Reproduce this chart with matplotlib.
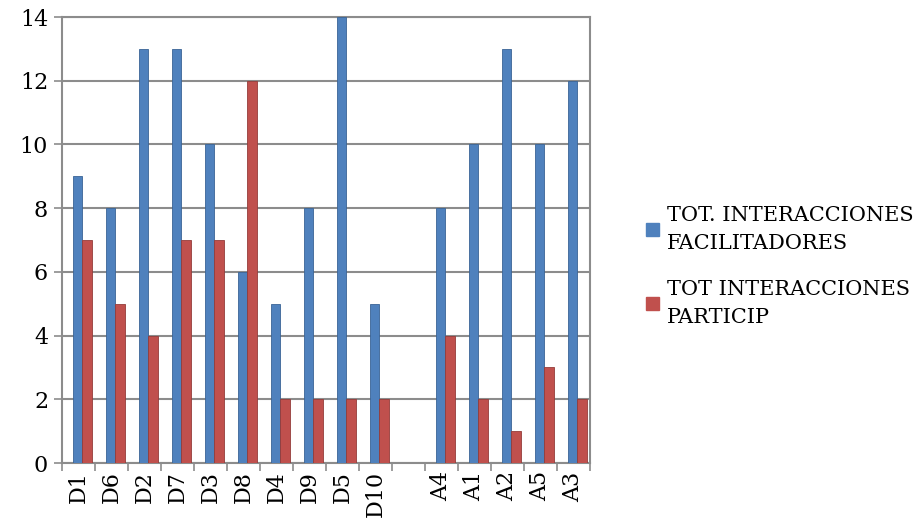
import numpy as np
import matplotlib.pyplot as plt
from matplotlib.patches import Patch

categories = ["D1", "D6", "D2", "D7", "D3", "D8", "D4", "D9", "D5", "D10",
              "", "A4", "A1", "A2", "A5", "A3"]
facilitadores = [9, 8, 13, 13, 10, 6, 5, 8, 14, 5, np.nan, 8, 10, 13, 10, 12]
particip = [7, 5, 4, 7, 7, 12, 2, 2, 2, 2, np.nan, 4, 2, 1, 3, 2]
series_names = ["TOT. INTERACCIONES\nFACILITADORES", "TOT INTERACCIONES\nPARTICIP"]

blue = "#4F81BD"
red = "#C0504D"
grid = "#8C8C8C"

plt.rcParams["font.family"] = ["DejaVu Serif"]

fig = plt.figure(figsize=(9.19, 5.27), dpi=100)
ax = fig.add_axes([62 / 919, 64 / 527, 528 / 919, 446 / 527])

x = np.arange(len(categories))
w = 0.29
ax.bar(x - 0.03, facilitadores, w, color=blue, edgecolor="#3A6496", linewidth=0.6, zorder=3)
ax.bar(x + 0.26, particip, w, color=red, edgecolor="#943C3A", linewidth=0.6, zorder=3)

ax.set_xlim(-0.5, len(categories) - 0.5)
ax.set_ylim(0, 14)
ax.set_yticks(range(0, 15, 2))
ax.yaxis.grid(True, color=grid, linewidth=1.5, zorder=0)
ax.set_axisbelow(True)

ax.set_xticks(x)
ax.set_xticklabels(categories, rotation=90, fontsize=16)
ax.set_xticks(np.arange(-0.5, len(categories)), minor=True)
ax.tick_params(axis="x", which="major", length=0, pad=6)
ax.tick_params(axis="x", which="minor", length=6, color=grid, width=1.2)
ax.tick_params(axis="y", labelsize=16, length=6, color=grid, width=1.2, pad=4)

for s in ax.spines.values():
    s.set_color(grid)
    s.set_linewidth(1.5)

handles = [Patch(color=blue), Patch(color=red)]
leg = fig.legend(handles, series_names, loc="center left", bbox_to_anchor=(646 / 919, 0.495),
                 frameon=False, fontsize=15, handlelength=0.6, handleheight=0.6,
                 handletextpad=0.4, labelspacing=1.3, borderpad=0, borderaxespad=0)
for t in leg.get_texts():
    t.set_linespacing(1.6)

fig.savefig("out.png", dpi=100)
